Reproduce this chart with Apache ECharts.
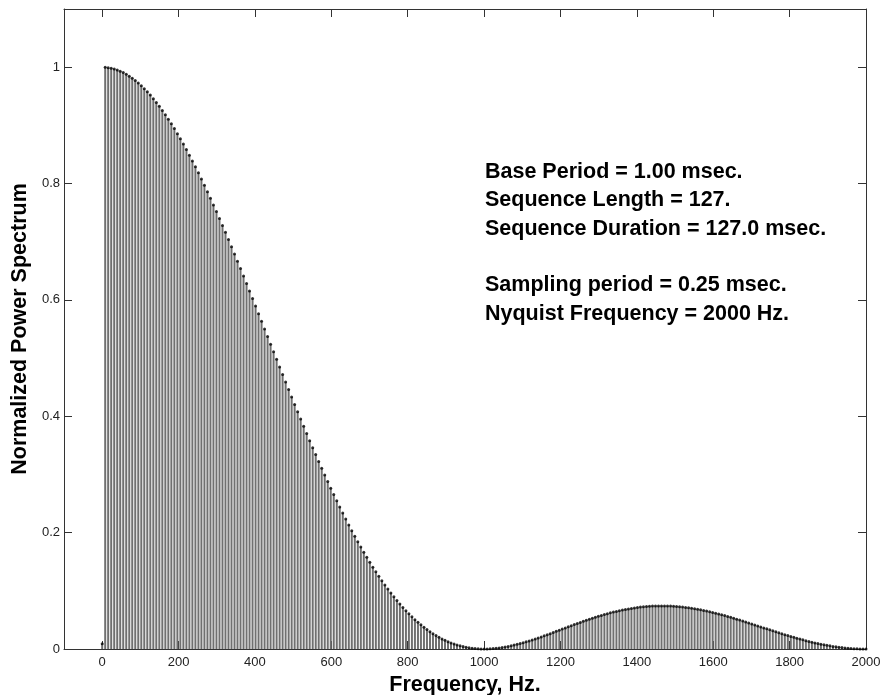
<!DOCTYPE html>
<html>
<head>
<meta charset="utf-8">
<title>Normalized Power Spectrum</title>
<script src="https://cdn.jsdelivr.net/npm/echarts@6.0.0/dist/echarts.min.js"></script>
<style>
  html, body { margin: 0; padding: 0; background: #fff; }
  #chart { width: 880px; height: 695px; }
</style>
</head>
<body>
<div id="chart"></div>
<script>
// DC line of the spectrum
const dcHz = [0];
const dcPower = [0.009];

// main lobe, harmonics 1..127
const mainLobeHz = [
  7.9, 15.7, 23.6, 31.5, 39.4, 47.2, 55.1, 63.0, 70.9, 78.7,
  86.6, 94.5, 102.4, 110.2, 118.1, 126.0, 133.9, 141.7, 149.6, 157.5,
  165.4, 173.2, 181.1, 189.0, 196.9, 204.7, 212.6, 220.5, 228.3, 236.2,
  244.1, 252.0, 259.8, 267.7, 275.6, 283.5, 291.3, 299.2, 307.1, 315.0,
  322.8, 330.7, 338.6, 346.5, 354.3, 362.2, 370.1, 378.0, 385.8, 393.7,
  401.6, 409.4, 417.3, 425.2, 433.1, 440.9, 448.8, 456.7, 464.6, 472.4,
  480.3, 488.2, 496.1, 503.9, 511.8, 519.7, 527.6, 535.4, 543.3, 551.2,
  559.1, 566.9, 574.8, 582.7, 590.6, 598.4, 606.3, 614.2, 622.0, 629.9,
  637.8, 645.7, 653.5, 661.4, 669.3, 677.2, 685.0, 692.9, 700.8, 708.7,
  716.5, 724.4, 732.3, 740.2, 748.0, 755.9, 763.8, 771.7, 779.5, 787.4,
  795.3, 803.1, 811.0, 818.9, 826.8, 834.6, 842.5, 850.4, 858.3, 866.1,
  874.0, 881.9, 889.8, 897.6, 905.5, 913.4, 921.3, 929.1, 937.0, 944.9,
  952.8, 960.6, 968.5, 976.4, 984.3, 992.1, 1000.0
];
const mainLobePower = [
  0.9998, 0.9992, 0.9983, 0.9970, 0.9952, 0.9932, 0.9907, 0.9878, 0.9846, 0.9810,
  0.9771, 0.9728, 0.9681, 0.9631, 0.9577, 0.9520, 0.9459, 0.9395, 0.9328, 0.9257,
  0.9184, 0.9106, 0.9027, 0.8944, 0.8858, 0.8770, 0.8679, 0.8585, 0.8488, 0.8389,
  0.8288, 0.8184, 0.8078, 0.7970, 0.7860, 0.7747, 0.7633, 0.7518, 0.7400, 0.7281,
  0.7161, 0.7038, 0.6915, 0.6790, 0.6665, 0.6538, 0.6410, 0.6283, 0.6153, 0.6024,
  0.5894, 0.5764, 0.5632, 0.5502, 0.5371, 0.5240, 0.5109, 0.4978, 0.4848, 0.4718,
  0.4588, 0.4460, 0.4331, 0.4204, 0.4078, 0.3952, 0.3827, 0.3704, 0.3581, 0.3460,
  0.3341, 0.3222, 0.3106, 0.2990, 0.2877, 0.2765, 0.2655, 0.2546, 0.2440, 0.2336,
  0.2233, 0.2133, 0.2034, 0.1938, 0.1844, 0.1752, 0.1662, 0.1575, 0.1490, 0.1407,
  0.1327, 0.1249, 0.1173, 0.1100, 0.1030, 0.0962, 0.0896, 0.0832, 0.0772, 0.0713,
  0.0657, 0.0604, 0.0553, 0.0504, 0.0458, 0.0415, 0.0373, 0.0334, 0.0298, 0.0263,
  0.0231, 0.0202, 0.0174, 0.0149, 0.0126, 0.0104, 0.0086, 0.0069, 0.0054, 0.0041,
  0.0030, 0.0020, 0.0013, 0.0007, 0.0003, 0.0001, 0.0000
];

// side lobe, harmonics 128..254 (up to Nyquist)
const sideLobeHz = [
  1007.9, 1015.7, 1023.6, 1031.5, 1039.4, 1047.2, 1055.1, 1063.0, 1070.9, 1078.7,
  1086.6, 1094.5, 1102.4, 1110.2, 1118.1, 1126.0, 1133.9, 1141.7, 1149.6, 1157.5,
  1165.4, 1173.2, 1181.1, 1189.0, 1196.9, 1204.7, 1212.6, 1220.5, 1228.3, 1236.2,
  1244.1, 1252.0, 1259.8, 1267.7, 1275.6, 1283.5, 1291.3, 1299.2, 1307.1, 1315.0,
  1322.8, 1330.7, 1338.6, 1346.5, 1354.3, 1362.2, 1370.1, 1378.0, 1385.8, 1393.7,
  1401.6, 1409.4, 1417.3, 1425.2, 1433.1, 1440.9, 1448.8, 1456.7, 1464.6, 1472.4,
  1480.3, 1488.2, 1496.1, 1503.9, 1511.8, 1519.7, 1527.6, 1535.4, 1543.3, 1551.2,
  1559.1, 1566.9, 1574.8, 1582.7, 1590.6, 1598.4, 1606.3, 1614.2, 1622.0, 1629.9,
  1637.8, 1645.7, 1653.5, 1661.4, 1669.3, 1677.2, 1685.0, 1692.9, 1700.8, 1708.7,
  1716.5, 1724.4, 1732.3, 1740.2, 1748.0, 1755.9, 1763.8, 1771.7, 1779.5, 1787.4,
  1795.3, 1803.1, 1811.0, 1818.9, 1826.8, 1834.6, 1842.5, 1850.4, 1858.3, 1866.1,
  1874.0, 1881.9, 1889.8, 1897.6, 1905.5, 1913.4, 1921.3, 1929.1, 1937.0, 1944.9,
  1952.8, 1960.6, 1968.5, 1976.4, 1984.3, 1992.1, 2000.0
];
const sideLobePower = [
  0.0001, 0.0003, 0.0007, 0.0012, 0.0018, 0.0026, 0.0034, 0.0044, 0.0055, 0.0067,
  0.0080, 0.0093, 0.0108, 0.0123, 0.0139, 0.0155, 0.0172, 0.0190, 0.0208, 0.0226,
  0.0245, 0.0264, 0.0283, 0.0303, 0.0322, 0.0342, 0.0361, 0.0381, 0.0400, 0.0419,
  0.0438, 0.0457, 0.0475, 0.0493, 0.0511, 0.0528, 0.0545, 0.0561, 0.0577, 0.0592,
  0.0607, 0.0621, 0.0634, 0.0646, 0.0658, 0.0669, 0.0680, 0.0689, 0.0698, 0.0706,
  0.0714, 0.0720, 0.0725, 0.0730, 0.0734, 0.0737, 0.0739, 0.0740, 0.0741, 0.0740,
  0.0739, 0.0737, 0.0734, 0.0730, 0.0726, 0.0720, 0.0714, 0.0707, 0.0700, 0.0691,
  0.0682, 0.0673, 0.0662, 0.0651, 0.0640, 0.0628, 0.0615, 0.0602, 0.0588, 0.0574,
  0.0559, 0.0544, 0.0529, 0.0513, 0.0497, 0.0481, 0.0465, 0.0448, 0.0431, 0.0414,
  0.0397, 0.0380, 0.0363, 0.0346, 0.0329, 0.0312, 0.0296, 0.0279, 0.0263, 0.0247,
  0.0231, 0.0215, 0.0200, 0.0185, 0.0171, 0.0157, 0.0143, 0.0130, 0.0117, 0.0105,
  0.0094, 0.0083, 0.0073, 0.0063, 0.0054, 0.0045, 0.0038, 0.0031, 0.0024, 0.0019,
  0.0014, 0.0010, 0.0006, 0.0004, 0.0002, 0.0000, 0.0000
];

const xTicks = [0, 200, 400, 600, 800, 1000, 1200, 1400, 1600, 1800, 2000];
const yTicks = [0, 0.2, 0.4, 0.6, 0.8, 1];
const yTickLabels = ['0', '0.2', '0.4', '0.6', '0.8', '1'];

const infoLines = [
  'Base Period = 1.00 msec.',
  'Sequence Length = 127.',
  'Sequence Duration = 127.0 msec.',
  '',
  'Sampling period = 0.25 msec.',
  'Nyquist Frequency = 2000 Hz.'
];

const frequencies = dcHz.concat(mainLobeHz, sideLobeHz);
const power = dcPower.concat(mainLobePower, sideLobePower);
const stems = frequencies.map((f, i) => [f, power[i]]);

const axisColor = '#333';
const labelFont = { fontFamily: 'Liberation Sans, Arial, sans-serif', fontSize: 13, color: '#222' };
const nameFont = { fontFamily: 'Liberation Sans, Arial, sans-serif', fontSize: 21.5, fontWeight: 'bold', color: '#000' };

// frame axis: box line with inward ticks, no labels
function frameAxis(pos, isX) {
  const ticks = isX ? xTicks : yTicks;
  return {
    type: 'value',
    position: pos,
    min: isX ? -100 : 0,
    max: isX ? 2000 : 1.1,
    axisLine: { show: true, onZero: false, lineStyle: { color: axisColor, width: 1 } },
    axisTick: { show: true, inside: true, length: 8, customValues: ticks, lineStyle: { color: axisColor } },
    axisLabel: { show: false, customValues: ticks },
    splitLine: { show: false }
  };
}

const chart = echarts.init(document.getElementById('chart'));

chart.setOption({
  animation: false,
  backgroundColor: '#fff',
  grid: { left: 64, right: 14, top: 9, bottom: 46, containLabel: false, outerBoundsMode: 'none' },
  xAxis: [
    Object.assign(frameAxis('bottom', true), {
      axisLabel: Object.assign({
        show: true,
        margin: 7,
        customValues: xTicks,
        formatter: v => String(v)
      }, labelFont),
      name: 'Frequency, Hz.',
      nameLocation: 'middle',
      nameGap: 22,
      nameTextStyle: nameFont
    }),
    frameAxis('top', true)
  ],
  yAxis: [
    Object.assign(frameAxis('left', false), {
      axisLabel: Object.assign({
        show: true,
        margin: 4,
        customValues: yTicks,
        formatter: v => yTickLabels[yTicks.indexOf(v)]
      }, labelFont),
      name: 'Normalized Power Spectrum',
      nameLocation: 'middle',
      nameRotate: 90,
      nameGap: 26.5,
      nameTextStyle: nameFont
    }),
    frameAxis('right', false)
  ],
  graphic: [{
    type: 'text',
    left: 485,
    top: 158,
    silent: true,
    style: {
      text: infoLines.join('\n'),
      font: 'bold 21.5px "Liberation Sans", Arial, sans-serif',
      lineHeight: 28.3,
      fill: '#000'
    }
  }],
  series: [
    {
      type: 'bar',
      xAxisIndex: 0,
      yAxisIndex: 0,
      barWidth: 2,
      silent: true,
      itemStyle: { color: '#707070' },
      data: stems
    },
    {
      type: 'scatter',
      xAxisIndex: 0,
      yAxisIndex: 0,
      symbol: 'circle',
      symbolSize: 3,
      silent: true,
      itemStyle: { color: '#000' },
      data: stems
    }
  ]
});
</script>
</body>
</html>
